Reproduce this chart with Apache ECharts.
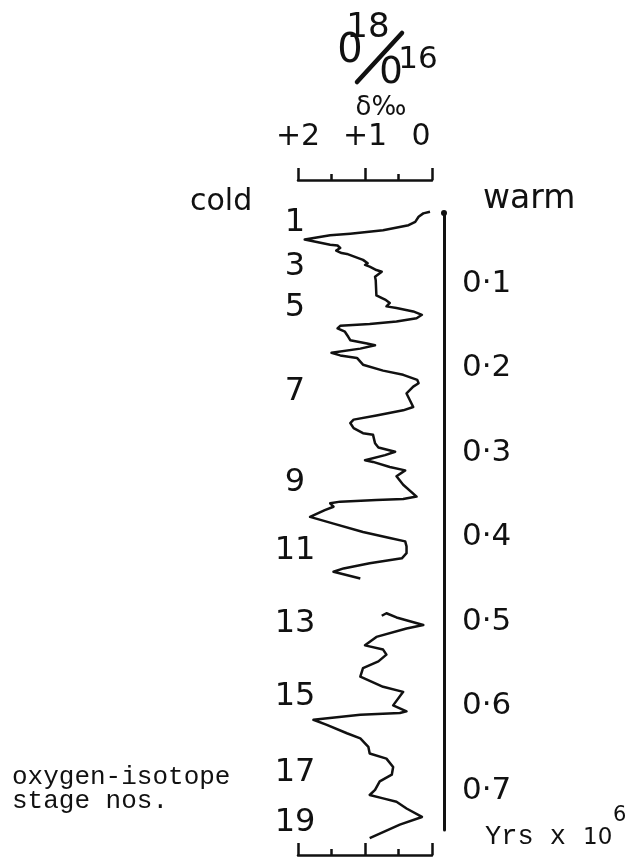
<!DOCTYPE html>
<html>
<head>
<meta charset="utf-8">
<script src="https://cdn.jsdelivr.net/npm/echarts@6/dist/echarts.min.js"></script>
<style>
  html, body { margin: 0; padding: 0; background: #fff; }
  #chart { width: 634px; height: 858px; }
</style>
</head>
<body>
<div id="chart"></div>
<script>
// Oxygen-isotope record: delta-18O (per mil) against age (millions of years)
const deltaO18 = [
  0.03, 0.13, 0.20, 0.25, 0.35, 0.73, 1.22, 1.52, 1.90, 1.52,
  1.41, 1.37, 1.43, 1.35, 1.27, 1.03, 0.96, 1.00, 0.93, 0.83,
  0.75, 0.85, 0.84, 0.83, 0.70, 0.63, 0.68, 0.53, 0.28, 0.15,
  0.23, 0.53, 0.93, 1.37, 1.41, 1.30, 1.25, 1.22, 0.97, 0.85,
  1.07, 1.50, 1.37, 1.12, 1.03, 0.73, 0.43, 0.22, 0.20, 0.28,
  0.38, 0.33, 0.28, 0.43, 0.83, 1.17, 1.22, 1.17, 1.03, 0.88,
  0.85, 0.80, 0.55, 0.70, 1.00, 0.88, 0.63, 0.40, 0.53, 0.43,
  0.23, 0.43, 0.83, 1.37, 1.52, 1.47, 1.60, 1.82, 1.47, 1.03,
  0.63, 0.40, 0.38, 0.38, 0.45, 0.93, 1.32, 1.47, 1.07,
  null,
  0.75, 0.68, 0.53, 0.13, 0.38, 0.83, 1.00, 0.73, 0.68, 0.80,
  1.03, 1.07, 0.73, 0.43, 0.58, 0.38, 0.48, 1.07, 1.77, 1.57,
  1.27, 1.07, 0.95, 0.93, 0.68, 0.58, 0.60, 0.78, 0.85, 0.93,
  0.73, 0.53, 0.38, 0.15, 0.48, 0.93
];
const ageMyr = [
  0.015, 0.017, 0.021, 0.027, 0.031, 0.037, 0.041, 0.043, 0.048, 0.054,
  0.055, 0.058, 0.061, 0.064, 0.065, 0.072, 0.076, 0.078, 0.080, 0.084,
  0.086, 0.092, 0.096, 0.114, 0.119, 0.123, 0.127, 0.129, 0.133, 0.137,
  0.141, 0.145, 0.148, 0.150, 0.153, 0.157, 0.163, 0.167, 0.171, 0.173,
  0.177, 0.182, 0.185, 0.188, 0.196, 0.203, 0.208, 0.214, 0.218, 0.222,
  0.230, 0.238, 0.246, 0.250, 0.256, 0.261, 0.265, 0.271, 0.277, 0.279,
  0.289, 0.294, 0.299, 0.303, 0.309, 0.311, 0.317, 0.321, 0.328, 0.338,
  0.352, 0.355, 0.356, 0.358, 0.360, 0.364, 0.368, 0.376, 0.384, 0.394,
  0.401, 0.405, 0.411, 0.419, 0.425, 0.431, 0.437, 0.441, 0.449,
  null,
  0.493, 0.490, 0.495, 0.504, 0.508, 0.518, 0.528, 0.533, 0.539, 0.547,
  0.555, 0.565, 0.577, 0.583, 0.599, 0.606, 0.608, 0.610, 0.616, 0.622,
  0.632, 0.638, 0.648, 0.656, 0.662, 0.672, 0.681, 0.689, 0.699, 0.705,
  0.709, 0.713, 0.721, 0.731, 0.740, 0.756
];

// Oxygen-isotope stage numbers and the ages where they are written
const stageNos = [1, 3, 5, 7, 9, 11, 13, 15, 17, 19];
const stageAges = [0.028, 0.080, 0.129, 0.228, 0.335, 0.416, 0.502, 0.589, 0.679, 0.738];

// Age scale labels (Myr)
const timeTicks = [0.1, 0.2, 0.3, 0.4, 0.5, 0.6, 0.7];
// Delta scale labels
const deltaTicks = [2, 1, 0];
const deltaTickText = ['+2', '+1', '0'];

// Age range of the drawn record and of the time bar
const AGE_MAX = 0.776;
const BAR_AGE_START = 0.0166;
const BAR_AGE_END = 0.7464;

const W = 634, H = 858;
const PLOT_LEFT = 298, PLOT_RIGHT = 432;
const PLOT_TOP = 199, PLOT_BOTTOM = 855;
const TOP_SCALE_Y = 180;
const PX_PER_MYR = (PLOT_BOTTOM - PLOT_TOP) / AGE_MAX;

const INK = '#111';
const SANS = 'DejaVu Sans';

const lineData = deltaO18.map((d, i) =>
  (d === null || ageMyr[i] === null) ? ['-', '-'] : [d, ageMyr[i]]);

const chart = echarts.init(document.getElementById('chart'), null, { renderer: 'canvas' });

// Delta scale drawn as a bracket: +2 on the left, 0 on the right
const bracketAxis = (gridIndex, pos, extra) => Object.assign({
  gridIndex: gridIndex,
  type: 'value',
  position: pos,
  min: 0,
  max: 2,
  interval: 1,
  inverse: true,
  axisLine: { show: true, onZero: false, lineStyle: { color: INK, width: 2.5 } },
  axisTick: { show: true, length: 12, lineStyle: { color: INK, width: 2.5 } },
  minorTick: { show: true, splitNumber: 2, length: 6, lineStyle: { color: INK, width: 2.5 } },
  splitLine: { show: false },
  minorSplitLine: { show: false }
}, extra);

const option = {
  animation: false,
  backgroundColor: '#ffffff',
  grid: [
    // record
    { left: PLOT_LEFT, right: W - PLOT_RIGHT, top: PLOT_TOP, bottom: H - PLOT_BOTTOM },
    // time bar
    {
      left: 443, right: W - 444,
      top: PLOT_TOP + BAR_AGE_START * PX_PER_MYR,
      bottom: H - (PLOT_TOP + BAR_AGE_END * PX_PER_MYR)
    },
    // upper delta scale
    { left: PLOT_LEFT, right: W - PLOT_RIGHT, top: TOP_SCALE_Y, bottom: H - TOP_SCALE_Y - 1 }
  ],
  xAxis: [
    bracketAxis(0, 'bottom', {
      axisTick: { show: true, inside: true, length: 12, lineStyle: { color: INK, width: 2.5 } },
      minorTick: { show: true, splitNumber: 2, length: 6, lineStyle: { color: INK, width: 2.5 } },
      axisLabel: { show: false }
    }),
    { gridIndex: 1, type: 'value', show: false },
    bracketAxis(2, 'top', {
      axisLabel: {
        show: true,
        customValues: deltaTicks,
        margin: 28,
        fontFamily: SANS,
        fontSize: 30,
        color: INK,
        formatter: v => {
          const t = deltaTickText[deltaTicks.indexOf(v)];
          return v === 0 ? '{z|' + t + '}' : t;
        },
        rich: { z: { fontFamily: SANS, fontSize: 30, color: INK, padding: [0, 22, 0, 0] } }
      }
    })
  ],
  yAxis: [
    {
      gridIndex: 0,
      type: 'value',
      inverse: true,
      min: 0,
      max: AGE_MAX,
      position: 'left',
      axisLine: { show: false, onZero: false },
      axisTick: { show: false },
      splitLine: { show: false },
      axisLabel: {
        show: true,
        customValues: stageAges,
        align: 'center',
        margin: 3,
        fontFamily: SANS,
        fontSize: 32,
        color: INK,
        formatter: v => {
          let best = 0;
          stageAges.forEach((a, i) => { if (Math.abs(a - v) < Math.abs(stageAges[best] - v)) best = i; });
          return String(stageNos[best]);
        }
      }
    },
    {
      gridIndex: 1,
      type: 'value',
      inverse: true,
      min: BAR_AGE_START,
      max: BAR_AGE_END,
      position: 'right',
      axisLine: {
        show: true,
        onZero: false,
        symbol: ['none', 'circle'],
        symbolSize: [6, 6],
        lineStyle: { color: INK, width: 3, cap: 'round' }
      },
      axisTick: { show: false },
      splitLine: { show: false },
      axisLabel: {
        show: true,
        customValues: timeTicks,
        margin: 18,
        fontFamily: SANS,
        fontSize: 31,
        color: INK,
        formatter: v => v.toFixed(1).replace('.', '\u00B7')
      }
    },
    { gridIndex: 2, type: 'value', show: false }
  ],
  series: [
    {
      type: 'line',
      xAxisIndex: 0,
      yAxisIndex: 0,
      data: lineData,
      showSymbol: false,
      symbol: 'none',
      connectNulls: false,
      clip: false,
      lineStyle: { color: INK, width: 2.5, join: 'round' }
    }
  ],
  graphic: [
    // 18O / 16O ratio heading
    { type: 'text', x: 350, y: 52, style: { text: '0', font: '40px "DejaVu Sans"', fill: INK, align: 'center', verticalAlign: 'middle' } },
    { type: 'text', x: 368, y: 28, style: { text: '18', font: '34px "DejaVu Sans"', fill: INK, align: 'center', verticalAlign: 'middle' } },
    { type: 'line', shape: { x1: 357, y1: 82, x2: 402, y2: 33 }, style: { stroke: INK, lineWidth: 4.5, lineCap: 'round' } },
    { type: 'text', x: 391, y: 73, style: { text: '0', font: '37px "DejaVu Sans"', fill: INK, align: 'center', verticalAlign: 'middle' } },
    { type: 'text', x: 418, y: 60, style: { text: '16', font: '31px "DejaVu Sans"', fill: INK, align: 'center', verticalAlign: 'middle' } },
    { type: 'text', x: 381, y: 108, style: { text: '\u03B4\u2030', font: '26px "DejaVu Sans"', fill: INK, align: 'center', verticalAlign: 'middle' } },
    // End labels of the delta scale
    { type: 'text', x: 190, y: 202, style: { text: 'cold', font: '30px "DejaVu Sans"', fill: INK, align: 'left', verticalAlign: 'middle' } },
    { type: 'text', x: 483, y: 199, style: { text: 'warm', font: '33px "DejaVu Sans"', fill: INK, align: 'left', verticalAlign: 'middle' } },
    // Stage caption
    { type: 'text', x: 12, y: 777, style: { text: 'oxygen-isotope', font: '26px "Liberation Mono"', fill: INK, align: 'left', verticalAlign: 'middle' } },
    { type: 'text', x: 12, y: 801, style: { text: 'stage nos.', font: '26px "Liberation Mono"', fill: INK, align: 'left', verticalAlign: 'middle' } },
    // Age unit
    { type: 'text', x: 485, y: 837, style: { text: 'Yrs x', font: '27px "Liberation Mono"', fill: INK, align: 'left', verticalAlign: 'middle' } },
    { type: 'text', x: 583, y: 838, style: { text: '10', font: '23px "DejaVu Sans"', fill: INK, align: 'left', verticalAlign: 'middle' } },
    { type: 'text', x: 613, y: 816, style: { text: '6', font: '21px "DejaVu Sans"', fill: INK, align: 'left', verticalAlign: 'middle' } }
  ]
};

chart.setOption(option);
</script>
</body>
</html>
